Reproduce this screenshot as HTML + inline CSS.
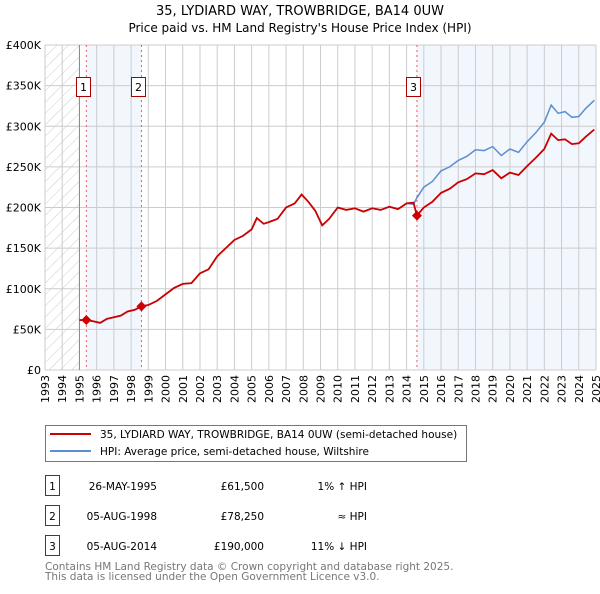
<!DOCTYPE html>
<html><head><meta charset="utf-8">
<style>
body{margin:0;background:#fff;width:600px;height:590px;overflow:hidden;font-family:"DejaVu Sans","Liberation Sans",sans-serif;}
svg text{font-family:"DejaVu Sans","Liberation Sans",sans-serif;}
</style></head><body>
<svg id="chart" width="600" height="590" xmlns="http://www.w3.org/2000/svg">
<defs>
<pattern id="hatch" patternUnits="userSpaceOnUse" width="8" height="8" patternTransform="rotate(45)">
<line x1="0" y1="0" x2="0" y2="8" stroke="#cccccc" stroke-width="1"/>
</pattern>
</defs>
<text x="300" y="15" text-anchor="middle" font-size="13">35, LYDIARD WAY, TROWBRIDGE, BA14 0UW</text>
<text x="300" y="32" text-anchor="middle" font-size="12">Price paid vs. HM Land Registry's House Price Index (HPI)</text>
<g id="plot"></g>
<g>
<rect x="45.5" y="425.5" width="421" height="36" fill="#fff" stroke="#777"/>
<line x1="50" y1="434" x2="91" y2="434" stroke="#cc0000" stroke-width="2"/>
<text x="100" y="438" font-size="10.5">35, LYDIARD WAY, TROWBRIDGE, BA14 0UW (semi-detached house)</text>
<line x1="50" y1="451" x2="91" y2="451" stroke="#5b8fd0" stroke-width="2"/>
<text x="100" y="455" font-size="10.5">HPI: Average price, semi-detached house, Wiltshire</text>
</g>
<g font-size="10.5">
<rect x="45.5" y="475.5" width="14" height="20" fill="#fff" stroke="#cc0000"/><text x="52.5" y="490" text-anchor="middle">1</text>
<text x="157" y="490" text-anchor="end">26-MAY-1995</text><text x="264" y="490" text-anchor="end">£61,500</text><text x="367" y="490" text-anchor="end">1% ↑ HPI</text>
<rect x="45.5" y="505.5" width="14" height="20" fill="#fff" stroke="#cc0000"/><text x="52.5" y="520" text-anchor="middle">2</text>
<text x="157" y="520" text-anchor="end">05-AUG-1998</text><text x="264" y="520" text-anchor="end">£78,250</text><text x="367" y="520" text-anchor="end">≈ HPI</text>
<rect x="45.5" y="535.5" width="14" height="20" fill="#fff" stroke="#cc0000"/><text x="52.5" y="550" text-anchor="middle">3</text>
<text x="157" y="550" text-anchor="end">05-AUG-2014</text><text x="264" y="550" text-anchor="end">£190,000</text><text x="367" y="550" text-anchor="end">11% ↓ HPI</text>
</g>
<text x="45" y="570" font-size="10.5" fill="#777">Contains HM Land Registry data © Crown copyright and database right 2025.</text>
<text x="45" y="580" font-size="10.5" fill="#777">This data is licensed under the Open Government Licence v3.0.</text>
</svg>
<script>
const hpiYears=[1995.0,1995.4,1995.8,1996.2,1996.6,1997.0,1997.4,1997.8,1998.2,1998.6,1999.0,1999.5,2000.0,2000.5,2001.0,2001.5,2002.0,2002.5,2003.0,2003.5,2004.0,2004.5,2005.0,2005.3,2005.7,2006.0,2006.5,2007.0,2007.5,2007.9,2008.3,2008.7,2009.1,2009.5,2010.0,2010.5,2011.0,2011.5,2012.0,2012.5,2013.0,2013.5,2014.0,2014.4,2014.6,2015.0,2015.5,2016.0,2016.5,2017.0,2017.5,2018.0,2018.5,2019.0,2019.5,2020.0,2020.5,2021.0,2021.5,2022.0,2022.4,2022.8,2023.2,2023.6,2024.0,2024.4,2024.9];
const hpiValues=[61,61,60,58,63,65,67,72,74,78,80,85,93,101,106,107,119,124,140,150,160,165,173,187,180,182,186,200,205,216,207,196,178,186,200,197,199,195,199,197,201,198,205,204,212,225,232,245,250,258,263,271,270,275,264,272,268,281,292,305,326,316,318,311,312,322,332];
const ppYears=[1995.0,1995.4,1995.8,1996.2,1996.6,1997.0,1997.4,1997.8,1998.2,1998.6,1999.0,1999.5,2000.0,2000.5,2001.0,2001.5,2002.0,2002.5,2003.0,2003.5,2004.0,2004.5,2005.0,2005.3,2005.7,2006.0,2006.5,2007.0,2007.5,2007.9,2008.3,2008.7,2009.1,2009.5,2010.0,2010.5,2011.0,2011.5,2012.0,2012.5,2013.0,2013.5,2014.0,2014.4,2014.6,2015.0,2015.5,2016.0,2016.5,2017.0,2017.5,2018.0,2018.5,2019.0,2019.5,2020.0,2020.5,2021.0,2021.5,2022.0,2022.4,2022.8,2023.2,2023.6,2024.0,2024.4,2024.9];
const ppValues=[61.5,61.5,60,58,63,65,67,72,74,78.25,80,85,93,101,106,107,119,124,140,150,160,165,173,187,180,182,186,200,205,216,207,196,178,186,200,197,199,195,199,197,201,198,205,206,190,200,207,218,223,231,235,242,241,246,236,243,240,251,261,272,291,283,284,278,279,287,296];
const saleYears=[1995.4,1998.6,2014.6];
const salePrices=[61.5,78.25,190];
const saleLabels=["1","2","3"];
const yTicks=[0,50,100,150,200,250,300,350,400];
const yTickLabels=["£0","£50K","£100K","£150K","£200K","£250K","£300K","£350K","£400K"];
const xTicks=[1993,1994,1995,1996,1997,1998,1999,2000,2001,2002,2003,2004,2005,2006,2007,2008,2009,2010,2011,2012,2013,2014,2015,2016,2017,2018,2019,2020,2021,2022,2023,2024,2025];

const X0=45,X1=596,Y0=370,Y1=45;
const xs=y=>X0+(y-1993)/(2025-1993)*(X1-X0);
const ys=v=>Y0-v/400*(Y0-Y1);
const NS="http://www.w3.org/2000/svg";
const g=document.getElementById('plot');
function mk(t,a){const e=document.createElementNS(NS,t);for(const k in a)e.setAttribute(k,a[k]);g.appendChild(e);return e;}
let e;
e=mk('rect',{x:X0,y:Y1,width:xs(1995)-X0,height:Y0-Y1,fill:'url(#hatch)'});


e=mk('rect',{x:xs(saleYears[0]),y:Y1,width:xs(saleYears[1])-xs(saleYears[0]),height:Y0-Y1,fill:'#f2f6fd'});


e=mk('rect',{x:xs(saleYears[2]),y:Y1,width:X1-xs(saleYears[2]),height:Y0-Y1,fill:'#f2f6fd'});


const CW=7;
xTicks.forEach((t,i)=>{
 e=mk('line',{x1:xs(t),x2:xs(t),y1:Y1,y2:Y0,stroke:'#cccccc'});
 
 
 const s=String(t);
 const bottom=Y0+5+s.length*CW;
 const xsList=[],ysList=[],rList=[];
 for(let k=0;k<s.length;k++){xsList.push((xs(t)+4).toFixed(1));ysList.push((bottom-k*CW).toFixed(1));rList.push(-90);}
 e=mk('text',{x:xsList.join(' '),y:ysList.join(' '),rotate:rList.join(' '),'font-size':11});
 e.textContent=s;
 
 
});
yTicks.forEach((t,i)=>{
 e=mk('line',{x1:X0,x2:X1,y1:ys(t),y2:ys(t),stroke:'#cccccc'});
 
 
 e=mk('text',{x:X0-4,y:ys(t)+4,'font-size':11,'text-anchor':'end'});
 e.textContent=yTickLabels[i];
 
 
});
e=mk('line',{x1:xs(1995),x2:xs(1995),y1:Y1,y2:Y0,stroke:'#888'});


saleYears.forEach((s,i)=>{
 e=mk('line',{x1:xs(s),x2:xs(s),y1:Y1,y2:Y0,stroke:'#e06060','stroke-dasharray':'2,3'});
 
 
});
function path(xa,va){return xa.map((x,i)=>(i?'L':'M')+xs(x).toFixed(1)+','+ys(va[i]).toFixed(1)).join(' ');}
e=mk('path',{d:path(hpiYears,hpiValues),fill:'none',stroke:'#5b8fd0','stroke-width':1.5});


e=mk('path',{d:path(ppYears,ppValues),fill:'none',stroke:'#cc0000','stroke-width':1.8});


saleYears.forEach((s,i)=>{
 const cx=xs(s),cy=ys(salePrices[i]);
 e=mk('path',{d:`M${cx},${cy-5}L${cx+5},${cy}L${cx},${cy+5}L${cx-5},${cy}Z`,fill:'#cc0000'});
 
 
 e=mk('rect',{x:Math.round(cx-10.5)+0.5,y:77.5,width:14,height:19,fill:'#fff',stroke:'#aa0000'});
 
 
 e=mk('text',{x:Math.round(cx-10.5)+7.5,y:91,'font-size':11,'text-anchor':'middle'});
 e.textContent=saleLabels[i];
 
 
});
</script>
</body></html>
